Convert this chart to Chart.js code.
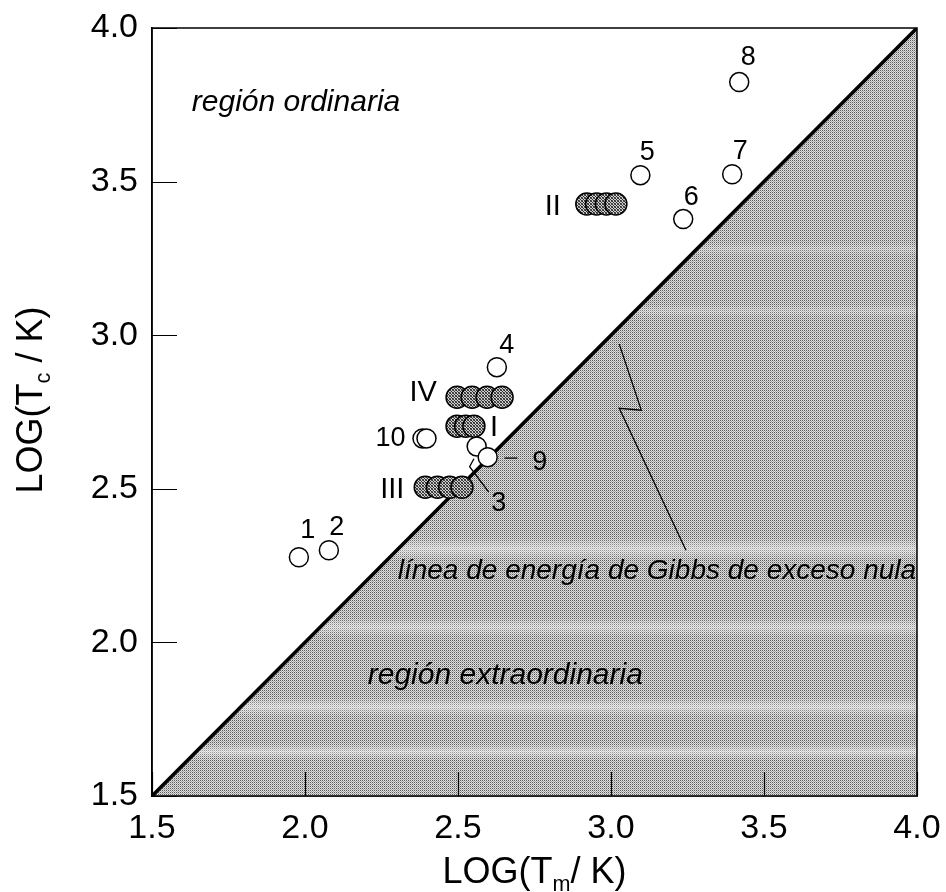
<!DOCTYPE html>
<html lang="es">
<head>
<meta charset="utf-8">
<title>LOG(Tc / K) frente a LOG(Tm / K)</title>
<script src="https://cdn.jsdelivr.net/npm/chart.js@4.4.1/dist/chart.umd.min.js"></script>
<style>
    html, body { margin: 0; padding: 0; background: #fff; }
    #wrap { width: 946px; height: 892px; }
</style>
</head>
<body>
<div id="wrap"><canvas id="grafico" width="946" height="892"></canvas></div>
<script>
// Ejes
const axisMin = 1.5;
const axisMax = 4.0;
const axisStep = 0.5;

// Línea de energía de Gibbs de exceso nula (Tc = Tm)
const diagX = [1.5, 4.0];
const diagY = [1.5, 4.0];

// Sistemas individuales (círculos abiertos)
const openLabels = ['1', '2', '3', '4', '5', '6', '7', '8', '9', '10', ''];
const openX = [1.980, 2.078, 2.561, 2.627, 3.096, 3.236, 3.396, 3.419, 2.597, 2.384, 2.397];
const openY = [2.277, 2.300, 2.638, 2.896, 3.521, 3.378, 3.524, 3.824, 2.603, 2.664, 2.664];

// Familias de sistemas (círculos rayados solapados)
const groupNames = ['I', 'II', 'III', 'IV'];
const groupY = [2.704, 3.427, 2.505, 2.798];
const groupX = [
    [2.497, 2.525, 2.552],
    [2.921, 2.953, 2.985, 3.016],
    [2.393, 2.433, 2.473, 2.513],
    [2.497, 2.546, 2.595, 2.644]
];

// Líneas guía hacia las etiquetas
const zigzagX = [3.027, 3.099, 3.027, 3.245];
const zigzagY = [2.971, 2.756, 2.762, 2.300];
const guide3X = [2.600, 2.538, 2.552];
const guide3Y = [2.490, 2.572, 2.598];
const dash9X = [2.652, 2.694];
const dash9Y = [2.600, 2.600];

// Textos de las regiones
const regionTexts = ['región ordinaria', 'región extraordinaria', 'línea de energía de Gibbs de exceso nula'];
const regionX = [1.630, 2.205, 2.303];
const regionY = [3.730, 1.866, 2.208];

const FONT = '"Liberation Sans", Arial, sans-serif';

// desplazamientos (px) de cada etiqueta respecto a su punto
const openOffsets = [[9, -27], [8, -23], [22, 57], [10, -22], [7, -23], [8, -22], [8, -23], [9, -25], [52, 5], [-32, 0], [0, 0]];
const groupOffsets = [[20, 2], [-34, 3], [-33, 3], [-34, -4]];

function toPoints(xs, ys) {
    return xs.map((x, i) => ({ x: x, y: Array.isArray(ys) ? ys[i] : ys }));
}

// Trama de puntos a partir de una matriz de colores
function makePattern(cells) {
    const c = document.createElement('canvas');
    c.width = cells[0].length;
    c.height = cells.length;
    const g = c.getContext('2d');
    cells.forEach((row, j) => row.forEach((col, i) => {
        g.fillStyle = col;
        g.fillRect(i, j, 1, 1);
    }));
    return g.createPattern(c, 'repeat');
}

const ctx = document.getElementById('grafico').getContext('2d');
const shadePattern = makePattern([
    ['#5a5a5a', '#dedede'],
    ['#dedede', '#a8a8a8']
]);
const hatchPattern = makePattern([
    ['#2e2e2e', '#cfcfcf', '#5a5a5a'],
    ['#cfcfcf', '#2e2e2e', '#cfcfcf'],
    ['#5a5a5a', '#cfcfcf', '#2e2e2e']
]);

// bandas claras del sombreado (rango en y y opacidad)
const streaks = [[3.30, 3.26, 0.25], [3.10, 3.06, 0.25], [2.34, 2.27, 0.45], [2.08, 2.02, 0.40], [1.82, 1.76, 0.45], [1.67, 1.62, 0.45]];

const datasets = [];
datasets.push({
    label: 'diagonal',
    data: toPoints(diagX, diagY),
    showLine: true,
    borderColor: '#000',
    borderWidth: 3.6,
    pointRadius: 0,
    backgroundColor: shadePattern,
    fill: 'start',
    order: 4
});
[[zigzagX, zigzagY], [guide3X, guide3Y], [dash9X, dash9Y]].forEach(([xs, ys]) => {
    datasets.push({
        data: toPoints(xs, ys),
        showLine: true,
        borderColor: '#000',
        borderWidth: 1.3,
        pointRadius: 0,
        fill: false,
        order: 3
    });
});
groupNames.forEach((name, g) => {
    datasets.push({
        label: name,
        data: toPoints(groupX[g], groupY[g]),
        pointRadius: 11,
        borderWidth: 1.5,
        borderColor: '#000',
        backgroundColor: hatchPattern,
        order: 2
    });
});
datasets.push({
    label: 'sistemas',
    data: toPoints(openX, openY),
    pointRadius: 9.5,
    borderWidth: 1.5,
    borderColor: '#000',
    backgroundColor: '#fff',
    order: 1
});

// Bandas claras dentro de la región extraordinaria
const streakPlugin = {
    id: 'streaks',
    beforeDatasetsDraw(chart) {
        const { ctx, chartArea: a, scales } = chart;
        ctx.save();
        ctx.beginPath();
        ctx.moveTo(scales.x.getPixelForValue(diagX[0]), scales.y.getPixelForValue(diagY[0]));
        ctx.lineTo(scales.x.getPixelForValue(diagX[1]), scales.y.getPixelForValue(diagY[1]));
        ctx.lineTo(a.right, a.bottom);
        ctx.closePath();
        ctx.clip();
        streaks.forEach(([y0, y1, alpha]) => {
            const p0 = scales.y.getPixelForValue(y0);
            const p1 = scales.y.getPixelForValue(y1);
            const grad = ctx.createLinearGradient(0, p0, 0, p1);
            grad.addColorStop(0, 'rgba(255,255,255,0)');
            grad.addColorStop(0.5, 'rgba(255,255,255,' + alpha + ')');
            grad.addColorStop(1, 'rgba(255,255,255,0)');
            ctx.fillStyle = grad;
            ctx.fillRect(a.left, p0, a.right - a.left, p1 - p0);
        });
        ctx.restore();
    }
};

// Marco, marcas hacia dentro, etiquetas y títulos de ejes
const decorPlugin = {
    id: 'decor',
    afterDatasetsDraw(chart) {
        const { ctx, chartArea: a, scales } = chart;
        ctx.save();
        ctx.strokeStyle = '#000';
        ctx.lineWidth = 1.5;
        ctx.strokeRect(a.left, a.top, a.right - a.left, a.bottom - a.top);
        ctx.beginPath();
        scales.x.ticks.forEach(t => {
            const px = Math.round(scales.x.getPixelForValue(t.value)) + 0.5;
            ctx.moveTo(px, a.bottom);
            ctx.lineTo(px, a.bottom - 24);
        });
        scales.y.ticks.forEach(t => {
            const py = Math.round(scales.y.getPixelForValue(t.value)) + 0.5;
            ctx.moveTo(a.left, py);
            ctx.lineTo(a.left + 25, py);
        });
        ctx.lineWidth = 1.2;
        ctx.stroke();

        ctx.fillStyle = '#000';
        ctx.textAlign = 'center';
        ctx.textBaseline = 'middle';

        const openMeta = chart.getDatasetMeta(datasets.length - 1);
        ctx.font = '27px ' + FONT;
        openLabels.forEach((lab, i) => {
            if (!lab) return;
            const el = openMeta.data[i];
            ctx.fillText(lab, el.x + openOffsets[i][0], el.y + openOffsets[i][1]);
        });

        ctx.font = '29px ' + FONT;
        groupNames.forEach((name, g) => {
            const meta = chart.getDatasetMeta(4 + g);
            const el = g === 0 ? meta.data[meta.data.length - 1] : meta.data[0];
            ctx.fillText(name, el.x + groupOffsets[g][0], el.y + groupOffsets[g][1]);
        });

        ctx.textAlign = 'left';
        ctx.textBaseline = 'alphabetic';
        regionTexts.forEach((txt, i) => {
            ctx.font = 'italic ' + (i === 2 ? 28 : 30) + 'px ' + FONT;
            ctx.fillText(txt, scales.x.getPixelForValue(regionX[i]), scales.y.getPixelForValue(regionY[i]));
        });

        // títulos con subíndice
        const drawTitle = (parts, size) => {
            let w = 0;
            parts.forEach(p => {
                ctx.font = (p.sub ? size * 0.6 : size) + 'px ' + FONT;
                w += ctx.measureText(p.t).width;
            });
            let x = -w / 2;
            parts.forEach(p => {
                ctx.font = (p.sub ? size * 0.6 : size) + 'px ' + FONT;
                ctx.fillText(p.t, x, p.sub ? size * 0.22 : 0);
                x += ctx.measureText(p.t).width;
            });
        };
        ctx.save();
        ctx.translate((a.left + a.right) / 2, 883);
        drawTitle([{ t: 'LOG(T' }, { t: 'm', sub: true }, { t: '/ K)' }], 36);
        ctx.restore();
        ctx.save();
        ctx.translate(42, 400);
        ctx.rotate(-Math.PI / 2);
        drawTitle([{ t: 'LOG(T' }, { t: 'c', sub: true }, { t: ' / K)' }], 36);
        ctx.restore();
        ctx.restore();
    }
};

const tickFont = { family: FONT, size: 34 };

new Chart(ctx, {
    type: 'scatter',
    data: { datasets: datasets },
    options: {
        responsive: false,
        animation: false,
        layout: { padding: { top: 28, right: 29, left: 0, bottom: 0 } },
        plugins: {
            legend: { display: false },
            tooltip: { enabled: false },
            filler: { drawTime: 'beforeDatasetsDraw' }
        },
        scales: {
            x: {
                type: 'linear',
                min: axisMin,
                max: axisMax,
                ticks: { stepSize: axisStep, font: tickFont, color: '#000', padding: 12, callback: v => v.toFixed(1) },
                grid: { display: false, drawTicks: false },
                border: { display: true, color: '#000', width: 1.5 },
                afterFit: s => { s.height = 96; s.paddingLeft = 0; s.paddingRight = 0; }
            },
            y: {
                type: 'linear',
                min: axisMin,
                max: axisMax,
                ticks: { stepSize: axisStep, font: tickFont, color: '#000', padding: 14, callback: v => v.toFixed(1) },
                grid: { display: false, drawTicks: false },
                border: { display: true, color: '#000', width: 1.5 },
                afterFit: s => { s.width = 152; s.paddingTop = 0; s.paddingBottom = 0; }
            }
        }
    },
    plugins: [streakPlugin, decorPlugin]
});
</script>
</body>
</html>
